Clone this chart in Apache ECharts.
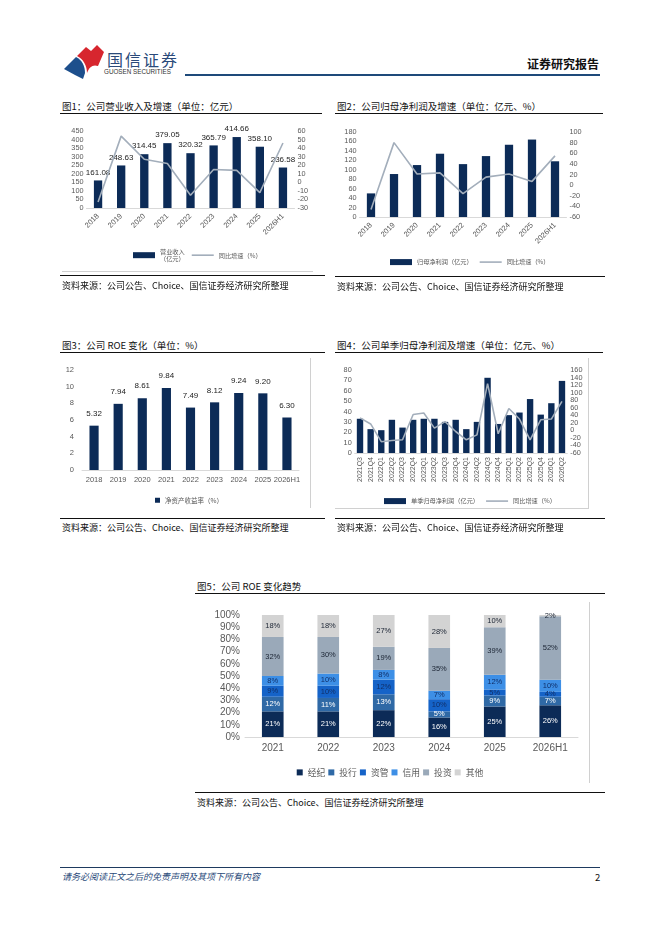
<!DOCTYPE html>
<html><head><meta charset="utf-8">
<script src="https://cdn.jsdelivr.net/npm/echarts@6/dist/echarts.min.js"></script>
<style>
body{margin:0;width:662px;height:936px;background:#fff;position:relative;font-family:"Noto Sans CJK SC",sans-serif;overflow:hidden}
.abs{position:absolute}
.title{font-size:9.5px;color:#111;white-space:nowrap;line-height:12px}
.src{font-size:9px;color:#111;white-space:nowrap;line-height:12px}
.bl{height:1.4px;background:#111}
.gl{background:#d0d0d0}
</style></head><body>

<!-- header -->
<svg class="abs" style="left:64px;top:45px" width="40" height="34" viewBox="0 0 40 34">
  <path d="M13,11 L22,2 L27,6 L33,0 L40,7 L34,21 C29,19 25,22 23,28 C23,20 19,14 13,11 Z" fill="#d7262e"/>
  <path d="M0,24 L12,12 C18,15 21,21 21,28 L19,34 L11,30 Z" fill="#1d4f8c"/>
</svg>
<div class="abs" style="left:107px;top:47px;font-size:16px;color:#2a4a7a;letter-spacing:2px;white-space:nowrap">国信证券</div>
<div class="abs" style="left:104px;top:68px;font-size:6.3px;color:#333;white-space:nowrap;font-family:'Liberation Sans',sans-serif">GUOSEN SECURITIES</div>
<div class="abs" style="left:185px;top:74px;width:415px;height:2px;background:#1e4a7a"></div>
<div class="abs" style="left:527px;top:55px;font-size:12px;font-weight:bold;color:#111;white-space:nowrap">证券研究报告</div>

<!-- chart 1 -->
<div class="abs title" style="left:62px;top:100px">图1：公司营业收入及增速（单位：亿元）</div>
<div class="abs bl" style="left:60px;top:113px;width:262px"></div>
<div id="c1" class="abs" style="left:55px;top:115px;width:275px;height:157px"></div>
<div class="abs gl" style="left:62px;top:271px;width:251px;height:1px"></div>
<div class="abs bl" style="left:60px;top:275px;width:265px"></div>
<div class="abs src" style="left:62px;top:280px">资料来源：公司公告、Choice、国信证券经济研究所整理</div>

<!-- chart 2 -->
<div class="abs title" style="left:337px;top:100px">图2：公司归母净利润及增速（单位：亿元、%）</div>
<div class="abs bl" style="left:335px;top:113px;width:268px"></div>
<div id="c2" class="abs" style="left:330px;top:115px;width:275px;height:157px"></div>
<div class="abs bl" style="left:335px;top:276px;width:270px"></div>
<div class="abs src" style="left:337px;top:281px">资料来源：公司公告、Choice、国信证券经济研究所整理</div>

<!-- chart 3 -->
<div class="abs title" style="left:62px;top:339px">图3：公司 ROE 变化（单位：%）</div>
<div class="abs bl" style="left:60px;top:352px;width:265px"></div>
<div id="c3" class="abs" style="left:55px;top:355px;width:260px;height:153px"></div>
<div class="abs gl" style="left:310px;top:358px;width:1px;height:150px"></div>
<div class="abs bl" style="left:60px;top:518px;width:265px"></div>
<div class="abs src" style="left:62px;top:522px">资料来源：公司公告、Choice、国信证券经济研究所整理</div>

<!-- chart 4 -->
<div class="abs title" style="left:337px;top:339px">图4：公司单季归母净利润及增速（单位：亿元、%）</div>
<div class="abs bl" style="left:335px;top:352px;width:268px"></div>
<div id="c4" class="abs" style="left:330px;top:355px;width:260px;height:153px"></div>
<div class="abs gl" style="left:588px;top:358px;width:1px;height:150px"></div>
<div class="abs gl" style="left:335px;top:508px;width:254px;height:1px"></div>
<div class="abs bl" style="left:335px;top:518px;width:270px"></div>
<div class="abs src" style="left:337px;top:522px">资料来源：公司公告、Choice、国信证券经济研究所整理</div>

<!-- chart 5 -->
<div class="abs title" style="left:197px;top:580px">图5：公司 ROE 变化趋势</div>
<div class="abs bl" style="left:195px;top:593px;width:410px"></div>
<div id="c5" class="abs" style="left:190px;top:598px;width:400px;height:185px"></div>
<div class="abs gl" style="left:589px;top:602px;width:1px;height:181px"></div>
<div class="abs bl" style="left:195px;top:792px;width:410px"></div>
<div class="abs src" style="left:197px;top:797px">资料来源：公司公告、Choice、国信证券经济研究所整理</div>

<!-- footer -->
<div class="abs" style="left:60px;top:867px;width:540px;height:1.4px;background:#1e3a5f"></div>
<div class="abs" style="left:62px;top:870px;font-size:9px;font-style:italic;color:#2a4a7a;white-space:nowrap">请务必阅读正文之后的免责声明及其项下所有内容</div>
<div class="abs" style="left:595px;top:870px;font-size:9.5px;color:#111">2</div>

<script>
// ---------- data ----------
const years = ['2018','2019','2020','2021','2022','2023','2024','2025','2026H1'];
const revenue = [161.08, 248.63, 314.45, 379.05, 320.32, 365.79, 414.66, 358.10, 236.58];
const revenueGrowth = [-23, 54, 27, 22, -15, 15, 14, -12, 46];
const netProfit = [50, 91, 110, 134, 112, 129, 153, 164, 118];
const netProfitGrowth = [-46, 80, 21, 23, -16, 15, 21, 7, 55];
const roe = [5.32, 7.94, 8.61, 9.84, 7.49, 8.12, 9.24, 9.20, 6.30];
const quarters = ['2021Q3','2021Q4','2022Q1','2022Q2','2022Q3','2022Q4','2023Q1','2023Q2','2023Q3','2023Q4',
                  '2024Q1','2024Q2','2024Q3','2024Q4','2025Q1','2025Q2','2025Q3','2025Q4','2026Q1','2026Q2'];
const qProfit = [33, 23, 22, 32, 24.5, 32, 33, 33, 30, 32, 23, 30, 72.5, 28, 36.5, 39, 52, 37, 48, 69.5];
const qGrowth = [33, 17, -30, -27, -25, 42, 46, 6, 23, -3, -25, -12, 124, -9, 58, 30, -25, 28, 30, 77];
const segYears = ['2021','2022','2023','2024','2025','2026H1'];
const segNames = ['经纪','投行','资管','信用','投资','其他'];
const brokerage = [21, 21, 22, 16, 25, 26];
const invBanking = [12, 11, 13, 5, 9, 7];
const assetMgmt = [9, 10, 12, 10, 5, 4];
const credit = [8, 10, 8, 7, 12, 10];
const investment = [32, 30, 19, 35, 39, 52];
const others = [18, 18, 27, 28, 10, 2];

// ---------- styles ----------
const NAVY = '#0c2b57', LINE = '#a3aebb', TXT = '#595959';
const FONT = '"Liberation Sans", Arial, sans-serif';
const CJK = '"Noto Sans CJK SC", sans-serif';
const LINE_ICON = 'path://M0,0 L22,0 L22,1.6 L0,1.6 Z';

function axisLabel(sz, extra){ return Object.assign({fontSize: sz, color: TXT, fontFamily: FONT, margin: 3}, extra||{}); }

function comboChart(el, cats, barName, barData, lineName, lineData, y1, y2, grid, legendPos, opts){
  const c = echarts.init(document.getElementById(el), null, {renderer:'canvas'});
  c.setOption({
    animation:false,
    grid: grid,
    legend: Object.assign({
      data:[{name:barName, icon:'rect'}, {name:lineName, icon:LINE_ICON}],
      itemWidth:22, itemHeight:6, itemGap:7,
      textStyle:{fontSize:6.2, color:TXT, fontFamily:CJK}
    }, legendPos),
    xAxis: {type:'category', data:cats,
      axisLine:{lineStyle:{color:'#d9d9d9'}}, axisTick:{show:false},
      axisLabel: axisLabel(opts.xfs || 7, {rotate: opts.rot, interval:0, margin:opts.xm || 4})},
    yAxis: [
      {type:'value', min:y1[0], max:y1[1], interval:y1[2], splitLine:{show:false},
        axisLine:{show:false}, axisTick:{show:false}, axisLabel: axisLabel(7.3)},
      {type:'value', min:y2[0], max:y2[1], interval:y2[2], splitLine:{show:false},
        axisLine:{show:false}, axisTick:{show:false}, axisLabel: axisLabel(7.3)}
    ],
    series: [
      {name:barName, type:'bar', data:barData, barWidth:opts.bw, itemStyle:{color:NAVY},
        label: opts.labels ? {show:true, position:'top', fontSize:8, color:'#222', fontFamily:FONT, distance:4,
          formatter: p => p.value.toFixed(2)} : {show:false}},
      {name:lineName, type:'line', yAxisIndex:1, data:lineData, symbol:'none',
        lineStyle:{color:LINE, width:1.6}, itemStyle:{color:LINE}}
    ]
  });
}

comboChart('c1', years, '营业收入\n（亿元）', revenue, '同比增速（%）', revenueGrowth,
  [0,450,50], [-30,60,10],
  {left:31.5, right:35.5, top:16, bottom:64},
  {left:73, top:129}, {rot:45, bw:'36%', labels:true, xfs:7.5, xm:7});

comboChart('c2', years, '归母净利润（亿元）', netProfit, '同比增速（%）', netProfitGrowth,
  [0,180,20], [-60,100,20],
  {left:29.5, right:38.5, top:17, bottom:55},
  {left:55, top:139}, {rot:45, bw:'36%', labels:false, xfs:7.5, xm:7});

comboChart('c4', quarters, '单季归母净利润（亿元）', qProfit, '同比增速（%）', qGrowth,
  [0,80,10], [-60,160,20],
  {left:24.7, right:22.7, top:15, bottom:55},
  {left:49, top:138}, {rot:90, bw:'60%', labels:false, xfs:7, xm:4});

// chart 3
(function(){
  const c = echarts.init(document.getElementById('c3'));
  c.setOption({
    animation:false,
    grid:{left:27, right:16, top:15, bottom:38},
    legend:{data:['净资产收益率（%）'], left:95, top:137, itemWidth:5, itemHeight:5, icon:'rect',
      textStyle:{fontSize:6.5, color:TXT, fontFamily:CJK}},
    xAxis:{type:'category', data:years, axisLine:{lineStyle:{color:'#d9d9d9'}}, axisTick:{show:false},
      axisLabel: axisLabel(7.5, {interval:0, margin:6})},
    yAxis:{type:'value', min:0, max:12, interval:2, splitLine:{show:false}, axisLine:{show:false},
      axisTick:{show:false}, axisLabel: axisLabel(7.5, {margin:8})},
    series:[{name:'净资产收益率（%）', type:'bar', data:roe, barWidth:'38%', itemStyle:{color:NAVY},
      label:{show:true, position:'top', fontSize:8, color:'#222', fontFamily:FONT, distance:8,
        formatter: p => p.value.toFixed(2)}}]
  });
})();

// chart 5
(function(){
  const c = echarts.init(document.getElementById('c5'));
  const colors = ['#0c2b57','#2f69a6','#1563c8','#3d8fe6','#9aa9b9','#d3d3d3'];
  const labelColors = ['#ffffff','#ffffff','#10306a','#10306a','#1b2433','#1b2433'];
  const datasets = [brokerage, invBanking, assetMgmt, credit, investment, others];
  c.setOption({
    animation:false,
    color: colors,
    grid:{left:55, right:12, top:17, bottom:46},
    legend:{data:segNames, left:'center', top:165, itemWidth:6, itemHeight:6, itemGap:3, icon:'rect',
      textStyle:{fontSize:8.8, color:TXT, fontFamily:CJK}},
    xAxis:{type:'category', data:segYears, axisLine:{lineStyle:{color:'#d9d9d9'}}, axisTick:{show:false},
      axisLabel: axisLabel(10, {margin:6})},
    yAxis:{type:'value', min:0, max:100, interval:10, splitLine:{show:false}, axisLine:{show:false},
      axisTick:{show:false}, axisLabel: axisLabel(10, {formatter:'{value}%', margin:5})},
    series: segNames.map((n,i) => ({
      name:n, type:'bar', stack:'total', data:datasets[i], barWidth:'39%',
      label:{show:true, position:'inside', fontSize:7.5, color:labelColors[i], fontFamily:FONT, formatter:'{c}%'}
    }))
  });
})();
</script>
</body></html>
